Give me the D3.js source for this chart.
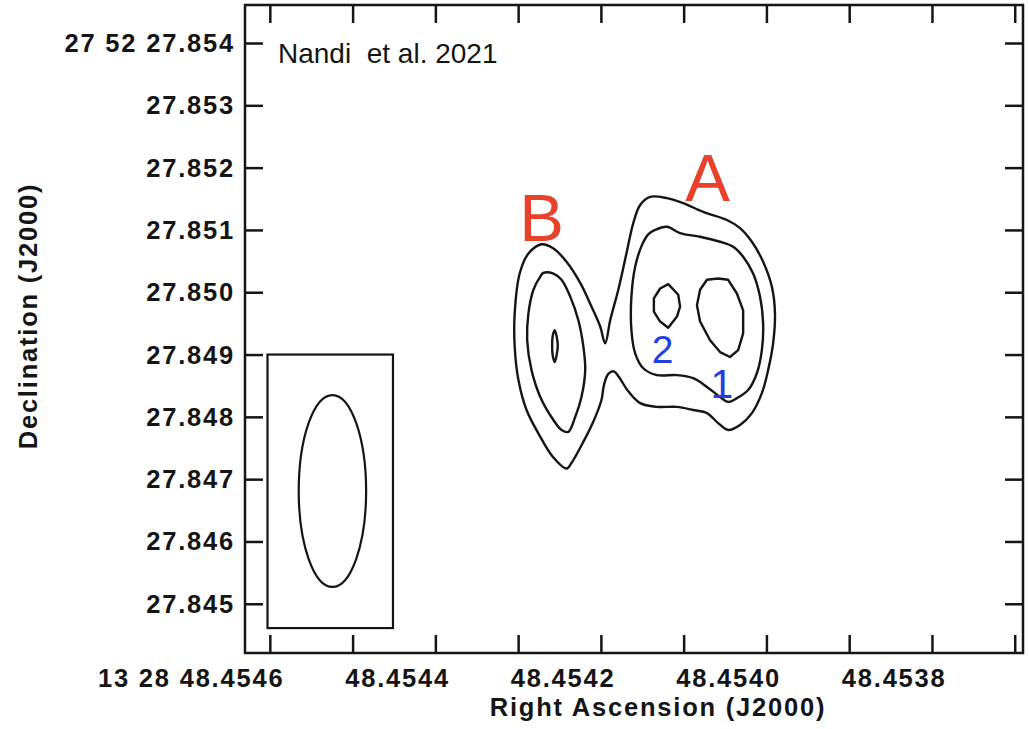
<!DOCTYPE html>
<html>
<head>
<meta charset="utf-8">
<script src="https://cdn.jsdelivr.net/npm/d3@7"></script>
<style>
  html, body { margin: 0; padding: 0; background: #ffffff; }
  svg { display: block; }
  .tick-label, .axis-title {
    font-family: "Liberation Sans", Arial, Helvetica, sans-serif;
    font-weight: bold;
    font-size: 25.5px;
    letter-spacing: 1.8px;
    fill: #151515;
  }
  .credit {
    font-family: "Liberation Sans", Arial, Helvetica, sans-serif;
    font-size: 28px;
    fill: #151515;
    white-space: pre;
  }
  .component {
    font-family: "Liberation Sans", Arial, Helvetica, sans-serif;
  }
</style>
</head>
<body>
<svg id="chart" width="1029" height="729"></svg>
<script>
// ---- Map extent: RA seconds of 13h 28m, Dec arcsec of +27d 52m ----
const raLimits  = [48.45458, 48.45364];
const decLimits = [27.84421, 27.85461];

// Axis ticks and labels
const raTicks = [48.45455, 48.45445, 48.45435, 48.45425, 48.45415,
                 48.45405, 48.45395, 48.45385, 48.45375, 48.45365];
const raLabelValues = [48.4546, 48.4544, 48.4542, 48.4540, 48.4538];
const raLabels = ["13 28 48.4546", "48.4544", "48.4542", "48.4540", "48.4538"];
const decTicks = [27.854, 27.853, 27.852, 27.851, 27.850,
                  27.849, 27.848, 27.847, 27.846, 27.845];
const decLabels = ["27 52 27.854", "27.853", "27.852", "27.851", "27.850",
                   "27.849", "27.848", "27.847", "27.846", "27.845"];

// Reference position for the contour offsets
const RA0 = 48.4540;   // s
const DEC0 = 27.8490;  // arcsec
const DEC_DEG = 27 + 52 / 60 + 27.849 / 3600;

// Contour vertices as [east offset, north offset] in milliarcseconds
const contourLow = [
  [2.94, 1.77], [2.76, 1.71], [2.54, 1.49], [2.32, 1.15], [2.14, 0.77],
  [2.00, 0.45], [1.92, 0.18], [1.84, 0.55], [1.71, 1.04], [1.58, 1.62],
  [1.47, 2.11], [1.36, 2.40], [1.20, 2.53], [0.93, 2.51], [0.67, 2.43],
  [0.35, 2.29], [-0.03, 2.16], [-0.24, 2.03], [-0.43, 1.81], [-0.61, 1.49],
  [-0.75, 1.09], [-0.80, 0.66], [-0.77, 0.18], [-0.69, -0.25], [-0.59, -0.62],
  [-0.43, -0.94], [-0.24, -1.13], [-0.05, -1.21], [0.11, -1.10], [0.29, -0.94],
  [0.51, -0.89], [0.77, -0.84], [1.09, -0.84], [1.36, -0.78], [1.55, -0.59],
  [1.70, -0.36], [1.78, -0.27], [1.87, -0.31], [1.94, -0.49], [1.98, -0.73],
  [2.12, -1.10], [2.28, -1.42], [2.46, -1.74], [2.54, -1.83], [2.76, -1.64],
  [2.96, -1.32], [3.18, -0.89], [3.31, -0.41], [3.37, 0.13], [3.37, 0.66],
  [3.29, 1.30], [3.15, 1.62]
];
const contourMidA = [
  [1.12, 2.00], [0.93, 2.05], [0.72, 1.95], [0.40, 1.89], [0.08, 1.81],
  [-0.13, 1.73], [-0.29, 1.57], [-0.45, 1.30], [-0.56, 0.93], [-0.61, 0.50],
  [-0.59, 0.07], [-0.51, -0.30], [-0.37, -0.57], [-0.19, -0.70], [-0.05, -0.76],
  [0.08, -0.68], [0.29, -0.52], [0.51, -0.38], [0.77, -0.33], [1.09, -0.33],
  [1.31, -0.22], [1.44, 0.02], [1.50, 0.39], [1.50, 0.93], [1.44, 1.41],
  [1.33, 1.76], [1.23, 1.93]
];
const contourMidB = [
  [2.91, 1.31], [2.75, 1.30], [2.62, 1.20], [2.48, 0.93], [2.35, 0.55],
  [2.27, 0.13], [2.24, -0.25], [2.30, -0.68], [2.40, -1.00], [2.51, -1.24],
  [2.62, -1.21], [2.75, -1.05], [2.96, -0.68], [3.10, -0.25], [3.17, 0.23],
  [3.15, 0.66], [3.07, 1.04], [2.96, 1.25]
];
const contourPeakB = [
  [2.73, 0.39], [2.70, 0.30], [2.68, 0.14], [2.70, -0.02],
  [2.73, -0.12], [2.76, -0.02], [2.77, 0.14], [2.76, 0.30]
];
const contourPeakA1 = [
  [0.29, 1.20], [0.11, 1.22], [-0.05, 1.20], [-0.19, 0.98], [-0.29, 0.71],
  [-0.29, 0.34], [-0.21, 0.07], [-0.08, -0.04], [0.08, 0.04], [0.24, 0.23],
  [0.40, 0.53], [0.45, 0.79], [0.40, 1.04]
];
const contourPeakA2 = [
  [0.91, 1.13], [0.75, 0.96], [0.72, 0.77], [0.77, 0.61], [0.91, 0.43],
  [1.04, 0.53], [1.14, 0.69], [1.14, 0.90], [1.04, 1.06]
];

// Restoring beam (mas) and its box
const beam = { east: 6.29, north: -2.19, major: 3.08, minor: 1.08 };
const beamBox = { east: 7.33, west: 5.32, north: 0.0, south: -4.39 };

// Component annotations (text baseline position in mas offsets)
const componentLabels = [
  { text: "A", east: 0.28, north: 2.46, color: "#e8412c", size: 67 },
  { text: "B", east: 2.94, north: 1.82, color: "#e8412c", size: 67 },
  { text: "2", east: 1.00, north: -0.14, color: "#1f3fe4", size: 39 },
  { text: "1", east: 0.05, north: -0.70, color: "#1f3fe4", size: 41 }
];
const creditText = "Nandi  et al. 2021";

// ---- Geometry ----
const frame = { left: 245, right: 1023, top: 5, bottom: 653 };
const tickLen = 18;

const svg = d3.select("#chart");

const x = d3.scaleLinear().domain(raLimits).range([frame.left, frame.right]);
const y = d3.scaleLinear().domain(decLimits).range([frame.bottom, frame.top]);

const secPerMas = 1 / (1000 * 15 * Math.cos(DEC_DEG * Math.PI / 180));
const raOf = e => RA0 + e * secPerMas;
const decOf = n => DEC0 + n / 1000;
const px = p => [x(raOf(p[0])), y(decOf(p[1]))];

const ink = "#151515";

// Frame
svg.append("rect")
  .attr("x", frame.left).attr("y", frame.top)
  .attr("width", frame.right - frame.left)
  .attr("height", frame.bottom - frame.top)
  .attr("fill", "none").attr("stroke", ink).attr("stroke-width", 2.5);

// Axes with inward ticks on all four sides
const axisStyle = g => {
  g.select(".domain").remove();
  g.selectAll(".tick line").attr("stroke", ink).attr("stroke-width", 2.5);
  g.selectAll(".tick text").remove();
};
svg.append("g").attr("transform", `translate(0,${frame.bottom})`)
  .call(d3.axisBottom(x).tickValues(raTicks).tickSizeInner(-tickLen).tickSizeOuter(0))
  .call(axisStyle);
svg.append("g").attr("transform", `translate(0,${frame.top})`)
  .call(d3.axisTop(x).tickValues(raTicks).tickSizeInner(-tickLen).tickSizeOuter(0))
  .call(axisStyle);
svg.append("g").attr("transform", `translate(${frame.left},0)`)
  .call(d3.axisLeft(y).tickValues(decTicks).tickSizeInner(-tickLen).tickSizeOuter(0))
  .call(axisStyle);
svg.append("g").attr("transform", `translate(${frame.right},0)`)
  .call(d3.axisRight(y).tickValues(decTicks).tickSizeInner(-tickLen).tickSizeOuter(0))
  .call(axisStyle);

// Tick labels
svg.append("g").selectAll("text").data(raLabelValues).join("text")
  .attr("class", "tick-label")
  .attr("text-anchor", "end")
  .attr("x", d => x(d) + 56)
  .attr("y", 687)
  .text((d, i) => raLabels[i]);

svg.append("g").selectAll("text").data(decTicks).join("text")
  .attr("class", "tick-label")
  .attr("text-anchor", "end")
  .attr("x", 235)
  .attr("y", d => y(d) + 9)
  .text((d, i) => decLabels[i]);

// Axis titles
svg.append("text").attr("class", "axis-title")
  .attr("text-anchor", "middle")
  .attr("x", 658).attr("y", 716)
  .text("Right Ascension (J2000)");
svg.append("text").attr("class", "axis-title")
  .attr("text-anchor", "middle")
  .attr("transform", "translate(37,316) rotate(-90)")
  .text("Declination (J2000)");

// Contours
const smooth = d3.line().curve(d3.curveCatmullRomClosed.alpha(0.5));
const straight = d3.line().curve(d3.curveLinearClosed);
const contours = [
  { pts: contourLow, gen: smooth },
  { pts: contourMidA, gen: smooth },
  { pts: contourMidB, gen: smooth },
  { pts: contourPeakB, gen: smooth },
  { pts: contourPeakA1, gen: straight },
  { pts: contourPeakA2, gen: straight }
];
svg.append("g").selectAll("path").data(contours).join("path")
  .attr("d", c => c.gen(c.pts.map(px)))
  .attr("fill", "none")
  .attr("stroke", ink)
  .attr("stroke-width", 2.4)
  .attr("stroke-linejoin", "round");

// Beam box and beam ellipse
const bx0 = px([beamBox.east, beamBox.north]);
const bx1 = px([beamBox.west, beamBox.south]);
svg.append("rect")
  .attr("x", bx0[0]).attr("y", bx0[1])
  .attr("width", bx1[0] - bx0[0]).attr("height", bx1[1] - bx0[1])
  .attr("fill", "none").attr("stroke", ink).attr("stroke-width", 2.2);
const bc = px([beam.east, beam.north]);
const brx = Math.abs(px([beam.east - beam.minor / 2, beam.north])[0] - bc[0]);
const bry = Math.abs(px([beam.east, beam.north + beam.major / 2])[1] - bc[1]);
svg.append("ellipse")
  .attr("cx", bc[0]).attr("cy", bc[1]).attr("rx", brx).attr("ry", bry)
  .attr("fill", "none").attr("stroke", ink).attr("stroke-width", 2.2);

// Component labels
svg.append("g").selectAll("text").data(componentLabels).join("text")
  .attr("class", "component")
  .attr("text-anchor", "middle")
  .attr("x", d => px([d.east, d.north])[0])
  .attr("y", d => px([d.east, d.north])[1])
  .attr("fill", d => d.color)
  .attr("font-size", d => d.size)
  .text(d => d.text);

// Credit
svg.append("text").attr("class", "credit")
  .attr("x", 278).attr("y", 63)
  .text(creditText);
</script>
</body>
</html>
